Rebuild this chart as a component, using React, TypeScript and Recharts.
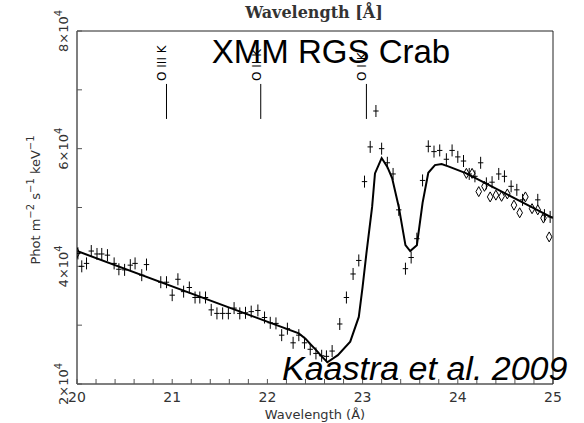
import React from "react";
import { ComposedChart, Line, Scatter, XAxis, YAxis } from "recharts";

// RGS data (crosses): wavelength (Å) and flux (phot m^-2 s^-1 keV^-1)
const rgsWave = [
  20.01, 20.05, 20.10, 20.15, 20.21, 20.26, 20.32, 20.39, 20.44, 20.50,
  20.56, 20.61, 20.68, 20.73, 20.88, 20.94, 21.00, 21.06, 21.12, 21.18,
  21.24, 21.29, 21.35, 21.41, 21.47, 21.53, 21.59, 21.65, 21.71, 21.77,
  21.83, 21.90, 21.97, 22.03, 22.09, 22.15, 22.21, 22.27, 22.33, 22.39,
  22.45, 22.51, 22.57, 22.62, 22.68, 22.76, 22.83, 22.90, 22.96, 23.02,
  23.08, 23.14, 23.20, 23.26, 23.32, 23.38, 23.45, 23.51, 23.57, 23.63,
  23.69, 23.75, 23.81, 23.88, 23.94, 24.00, 24.06, 24.12, 24.18, 24.24,
  24.30, 24.36, 24.43, 24.49, 24.56, 24.62, 24.68, 24.84, 24.91, 24.97,
];
const rgsFlux = [
  42200, 40000, 40500, 42600, 42100, 42100, 41900, 40500, 39500, 39400,
  40200, 40500, 38500, 40300, 37300, 37300, 35100, 37800, 35700, 36400,
  34700, 34700, 34700, 32600, 32000, 32000, 32000, 32900, 32000, 32100,
  32300, 32500, 31300, 30400, 30300, 28300, 29400, 27000, 28300, 27000,
  25900, 25200, 24800, 24700, 25600, 30200, 34700, 38700, 41000, 54400,
  60300, 66400, 60000, 57600, 55700, 49600, 39600, 41500, 44700, 54600,
  60400, 59500, 59700, 58200, 59700, 58600, 57900, 55700, 55300, 57600,
  54100, 54300, 55700, 55300, 53600, 53000, 51300, 51300, 48700, 48400,
];

// second data set (diamonds)
const otherWave = [
  20.00, 24.09, 24.15, 24.22, 24.28, 24.34, 24.40, 24.46, 24.52, 24.59,
  24.65, 24.71, 24.78, 24.84, 24.90, 24.96,
];
const otherFlux = [
  42300, 55800, 55800, 52700, 53600, 51800, 52100, 51900, 52300, 50400,
  49100, 51800, 49800, 49600, 48200, 45000,
];

// model curve
const modelWave = [
  20.0, 22.33, 22.40, 22.45, 22.51, 22.57, 22.63, 22.74, 22.87, 22.96,
  23.00, 23.04, 23.10, 23.13, 23.20, 23.26, 23.31, 23.38, 23.45, 23.50,
  23.57, 23.63, 23.69, 23.76, 23.83, 23.90, 24.09, 25.0,
];
const modelFlux = [
  42600, 28600, 27700, 26800, 25800, 24700, 23700, 24900, 27200, 31400,
  36500, 42200, 50100, 55800, 58400, 56900, 55000, 50100, 43600, 42600,
  43600, 50800, 55900, 57200, 57400, 57000, 55800, 48200,
];

// absorption edge markers
const edgeWave = [20.94, 21.93, 23.04];
const edgeTop = [71000, 71000, 71000];
const edgeLabels = ["O III K", "O II K", "O I K"];

const xTicks = [
  20, 20.2, 20.4, 20.6, 20.8, 21, 21.2, 21.4, 21.6, 21.8, 22, 22.2, 22.4,
  22.6, 22.8, 23, 23.2, 23.4, 23.6, 23.8, 24, 24.2, 24.4, 24.6, 24.8, 25,
];
const yTicks = [20000, 30000, 40000, 50000, 60000, 70000, 80000];

const rgsData = rgsWave.map((x, i) => ({ x, y: rgsFlux[i] }));
const otherData = otherWave.map((x, i) => ({ x, y: otherFlux[i] }));
const modelData = modelWave.map((x, i) => ({ x, y: modelFlux[i] }));
const edgeData = edgeWave.map((x, i) => ({ x, y: edgeTop[i], label: edgeLabels[i] }));

const Cross = (p: any) => {
  const { cx, cy } = p;
  if (cx == null || cy == null) return null;
  return (
    <g stroke="#000" strokeWidth={1}>
      <line x1={cx} x2={cx} y1={cy - 6} y2={cy + 6} />
      <line x1={cx - 2.7} x2={cx + 2.7} y1={cy} y2={cy} />
    </g>
  );
};

const Diamond = (p: any) => {
  const { cx, cy } = p;
  if (cx == null || cy == null) return null;
  return (
    <path
      d={`M${cx},${cy - 5} L${cx + 2.8},${cy} L${cx},${cy + 5} L${cx - 2.8},${cy} Z`}
      fill="none"
      stroke="#000"
      strokeWidth={1}
    />
  );
};

const EdgeMark = (p: any) => {
  const { cx, cy, payload } = p;
  if (cx == null || cy == null) return null;
  return (
    <g>
      <line x1={cx} x2={cx} y1={cy} y2={cy + 35} stroke="#000" strokeWidth={1} />
      <text
        x={cx}
        y={cy - 3}
        transform={`rotate(-90, ${cx}, ${cy - 3})`}
        textAnchor="start"
        fontFamily="DejaVu Sans"
        fontSize={12}
        fill="#000"
      >
        {payload.label}
      </text>
    </g>
  );
};

const XTick = (p: any) => {
  const { x, y, payload } = p;
  const v = payload.value;
  if (Math.abs(v - Math.round(v)) > 1e-6) return null;
  return (
    <text x={x} y={y + 21} textAnchor="middle" fontFamily="DejaVu Sans" fontSize={14} fill="#333">
      {Math.round(v)}
    </text>
  );
};

const YTick = (p: any) => {
  const { x, y, payload } = p;
  const v = payload.value;
  if (v % 20000 !== 0) return null;
  const bx = x - 12;
  return (
    <text
      x={bx}
      y={y}
      transform={`rotate(-90, ${bx}, ${y})`}
      textAnchor="middle"
      fontFamily="DejaVu Sans"
      fontSize={13}
      fill="#333"
    >
      {v / 10000}×10
      <tspan dy={-6} fontSize={10}>4</tspan>
    </text>
  );
};

export default function App() {
  return (
    <div style={{ position: "absolute", left: 0, top: 0, width: 584, height: 423, background: "#fff" }}>
      <ComposedChart
        width={584}
        height={423}
        margin={{ top: 21, right: 21, bottom: 9, left: 0 }}
      >
        <XAxis
          xAxisId="bottom"
          dataKey="x"
          type="number"
          domain={[20, 25]}
          ticks={xTicks}
          interval={0}
          allowDataOverflow
          orientation="bottom"
          height={30}
          tickSize={-5}
          tick={<XTick />}
          axisLine={{ stroke: "#555", strokeWidth: 1.5 }}
          tickLine={{ stroke: "#555" }}
        />
        <XAxis
          xAxisId="top"
          dataKey="x"
          type="number"
          domain={[20, 25]}
          ticks={xTicks}
          interval={0}
          allowDataOverflow
          orientation="top"
          height={10}
          tickSize={-5}
          tick={false}
          axisLine={{ stroke: "#222", strokeWidth: 1 }}
          tickLine={{ stroke: "#222" }}
        />
        <YAxis
          yAxisId="left"
          dataKey="y"
          type="number"
          domain={[20000, 80000]}
          ticks={yTicks}
          interval={0}
          allowDataOverflow
          orientation="left"
          width={77}
          tickSize={-5}
          tick={<YTick />}
          axisLine={{ stroke: "#555", strokeWidth: 1.5 }}
          tickLine={{ stroke: "#555" }}
        />
        <YAxis
          yAxisId="right"
          dataKey="y"
          type="number"
          domain={[20000, 80000]}
          ticks={yTicks}
          interval={0}
          allowDataOverflow
          orientation="right"
          width={10}
          tickSize={-5}
          tick={false}
          axisLine={{ stroke: "#222", strokeWidth: 1 }}
          tickLine={{ stroke: "#222" }}
        />
        <Line
          xAxisId="bottom"
          yAxisId="left"
          data={modelData}
          dataKey="y"
          type="linear"
          stroke="#000"
          strokeWidth={2}
          dot={false}
          activeDot={false}
          isAnimationActive={false}
        />
        <Scatter
          xAxisId="bottom"
          yAxisId="left"
          data={rgsData}
          dataKey="y"
          shape={<Cross />}
          isAnimationActive={false}
        />
        <Scatter
          xAxisId="bottom"
          yAxisId="left"
          data={otherData}
          dataKey="y"
          shape={<Diamond />}
          isAnimationActive={false}
        />
        <Scatter
          xAxisId="bottom"
          yAxisId="left"
          data={edgeData}
          dataKey="y"
          shape={<EdgeMark />}
          isAnimationActive={false}
        />
      </ComposedChart>
      <svg
        width={584}
        height={423}
        style={{ position: "absolute", left: 0, top: 0, pointerEvents: "none" }}
      >
        <text x={314} y={18} textAnchor="middle" fontFamily="DejaVu Serif" fontWeight="bold" fontSize={16} fill="#333">
          Wavelength [Å]
        </text>
        <text x={315} y={419} textAnchor="middle" fontFamily="DejaVu Sans" fontSize={13} fill="#333">
          Wavelength (Å)
        </text>
        <text
          x={40}
          y={200}
          transform="rotate(-90, 40, 200)"
          textAnchor="middle"
          fontFamily="DejaVu Sans"
          fontSize={13}
          fill="#333"
        >
          Phot m
          <tspan dy={-6} fontSize={10}>−2</tspan>
          <tspan dy={6}> s</tspan>
          <tspan dy={-6} fontSize={10}>−1</tspan>
          <tspan dy={6}> keV</tspan>
          <tspan dy={-6} fontSize={10}>−1</tspan>
        </text>
        <text x={331} y={63} textAnchor="middle" fontFamily="Liberation Sans" fontSize={33} fill="#000">
          XMM RGS Crab
        </text>
        <text x={282} y={380} textAnchor="start" fontFamily="Liberation Sans" fontStyle="italic" fontSize={34} fill="#000">
          Kaastra et al. 2009
        </text>
      </svg>
    </div>
  );
}
